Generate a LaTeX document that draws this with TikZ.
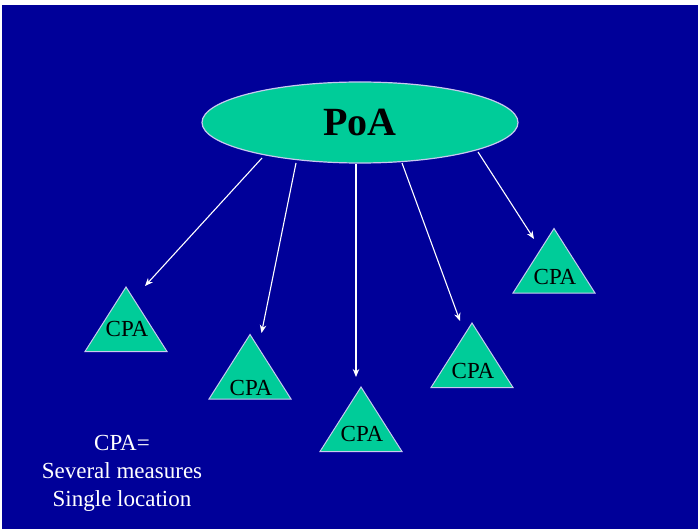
\documentclass[tikz,border=0pt]{standalone}
\usepackage{fontspec}
\setmainfont{Liberation Serif}
\usetikzlibrary{shapes.geometric,arrows.meta}
\definecolor{slideblue}{HTML}{000099}
\definecolor{shapegreen}{HTML}{00CC99}
\definecolor{rimcol}{HTML}{C8C8F0}
\begin{document}
\begin{tikzpicture}[x=1pt,y=-1pt,
  hub/.style={ellipse,draw=rimcol,line width=1.2pt,fill=shapegreen,
    minimum width=316pt,minimum height=81pt,inner sep=0pt,
    font=\fontsize{40}{40}\selectfont\bfseries},
  tri/.style={draw=rimcol,line width=1pt,fill=shapegreen,line join=miter},
  tlabel/.style={anchor=base,inner sep=0pt,font=\fontsize{23}{23}\selectfont},
  arr/.style={draw=white,line width=1.1pt,-{Stealth[length=8pt,width=6.5pt]}},
  note/.style={text=white,align=center,font=\fontsize{23}{28}\selectfont}]
% page and slide background
\fill[white] (0,0) rectangle (698,529);
\fill[slideblue] (2,5) rectangle (698,529);
\useasboundingbox (0,0) rectangle (698,529);

% central ellipse
\node[hub] (poa) at (360,122.5) {PoA};

% triangles (half-width 41, height 64.5) with labels
\newcommand{\cpatri}[4]{% name, apex x, apex y, label baseline y
  \path[tri] (#2-41,#3+64.5) -- (#2,#3) -- (#2+41,#3+64.5) -- cycle;
  \node[tlabel] (#1) at (#2+1,#4) {CPA};}
\cpatri{cpa1}{126}{287}{336.5}
\cpatri{cpa2}{250}{334.5}{395}
\cpatri{cpa3}{361}{387}{441.5}
\cpatri{cpa4}{472}{323}{378}
\cpatri{cpa5}{554}{228.5}{284}

% arrow start points on the ellipse rim and arrow tips
\coordinate (s1) at (262,158);
\coordinate (s2) at (296,163);
\coordinate (s3) at (356,164);
\coordinate (s4) at (402,163);
\coordinate (s5) at (478,152);
\coordinate (t1) at (145,286);
\coordinate (t2) at (261.5,333);
\coordinate (t3) at (356,377);
\coordinate (t4) at (460,321);
\coordinate (t5) at (534,239);
\foreach \i in {1,...,5} \draw[arr] (s\i) -- (t\i);

% legend
\node[note] (legend) at (122,473.5) {CPA=\\Several measures\\Single location};
\end{tikzpicture}
\end{document}
